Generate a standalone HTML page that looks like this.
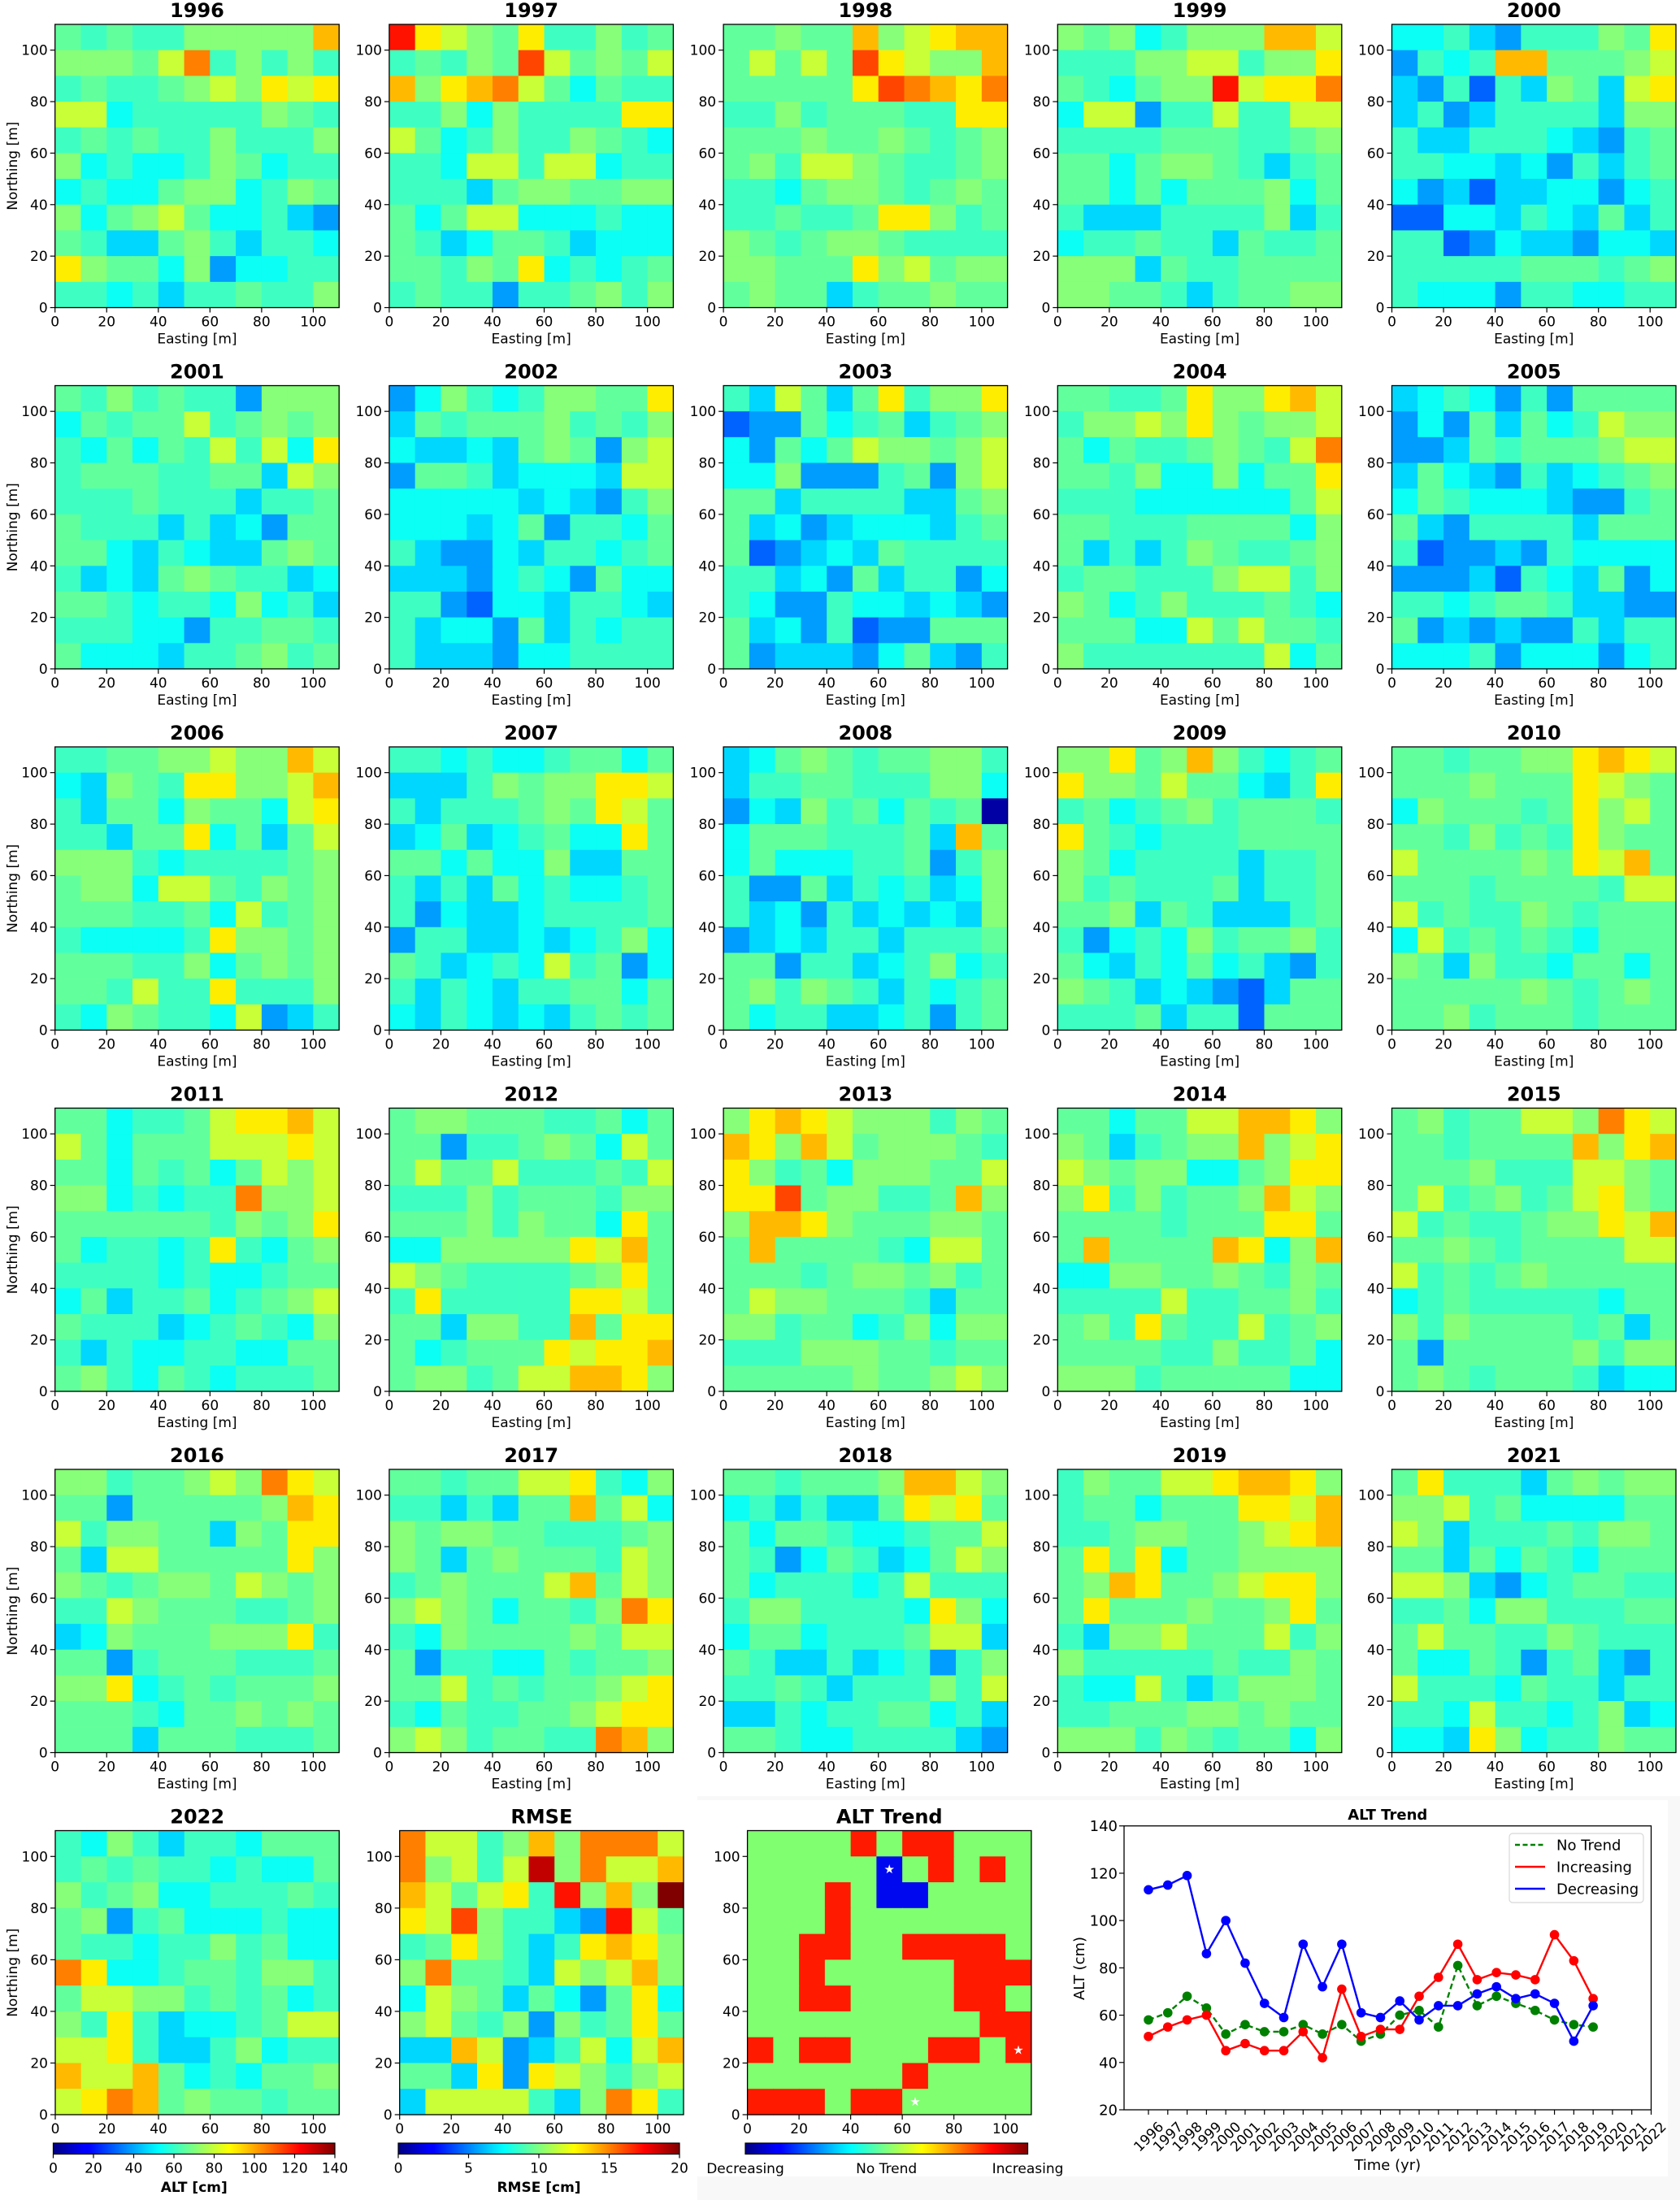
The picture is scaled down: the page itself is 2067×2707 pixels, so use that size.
<!DOCTYPE html>
<html><head><meta charset="utf-8"><style>
html,body{margin:0;padding:0;background:#fff;}
svg{display:block;font-family:"DejaVu Sans","Liberation Sans",sans-serif;}
</style></head><body>
<svg id="fig" xmlns="http://www.w3.org/2000/svg" width="2067" height="2707" viewBox="0 0 2067 2707">
<defs>
<linearGradient id="jetg" x1="0" x2="1" y1="0" y2="0">
<stop offset="0" stop-color="#000080"/><stop offset="0.11" stop-color="#0000ff"/><stop offset="0.125" stop-color="#0000ff"/><stop offset="0.34" stop-color="#00e0ff"/><stop offset="0.375" stop-color="#00ffff"/><stop offset="0.5" stop-color="#80ff80"/><stop offset="0.625" stop-color="#ffff00"/><stop offset="0.66" stop-color="#ffe000"/><stop offset="0.875" stop-color="#ff0000"/><stop offset="1" stop-color="#800000"/>
</linearGradient>
</defs>
</svg>
<script>
// ---- chart data ----
const years = ['1996','1997','1998','1999','2000','2001','2002','2003','2004','2005','2006','2007','2008','2009','2010','2011','2012','2013','2014','2015','2016','2017','2018','2019','2021','2022'];
// colour-level codes per cell (top row first), decoded via codeValues
const codeValues = {'d':5,'0':31,'1':39,'2':47,'3':54,'4':61,'5':66,'6':71,'7':80,'8':90,'9':97,'a':105,'b':113,'c':120,'e':131,'f':140};
const altGrids = [
"54544666669/66657a46464/45445676878/77344444654/45454464446/63433465344/34335663465/63567533421/54225642443/86553613344/44342445446",
"c8765844645/45465b75657/9689a753544/44636444488/75346446543/44377477344/44425665566/53577333433/54235542333/55465834345/45441445646",
"55655967899/57575b87669/555558ba98a/44645554488/55565565456/56477654456/44356654565/44544588645/65456654444/66555867566/56552455655",
"65634666997/44466774668/543566c788a/37714474477/44445554456/55356654245/55353555635/42224444624/34454425445/66625445555/66554245566",
"33421444658/14349955567/21404265278/24124444266/42244432145/44332314245/31202233134/00332432524/44013221332/44444555456/43331443344",
"54645441666/35455745656/43535474738/45554455276/44454442445/54442423155/55324322565/42325654423/55434436342/44433144554/53332445645",
"13643466558/25455564546/32232565167/15542333277/33333232146/33323514435/42113244345/22213431533/44103324432/42331524344/42221334444",
"42752584668/01153452456/31535766567/33611145167/55244442256/52312333245/50123254444/44231524413/43114332321/52314011555/51222135214",
"55445866897/46676865667/5354456547a/55463363558/44433333357/55444555536/52424654456/45544467746/65346444543/55533757554/64444444735",
"23431415555/13152534766/11254555677/25321423456/35433321145/52144442555/40112143333/11120432513/44345542211/51212114244/33341333134",
"44556676697/32654886679/42553655378/44255835257/66643444456/56637754656/55544537456/43333486656/55544635656/55474484446/43654437124",
"44343345535/22246566887/42444565875/23523453385/55353362255/42425343345/41322344445/14422323463/54234374513/42432445535/32432324545",
"23565455664/24455444663/1326453545d/35554445295/35333445146/41152434236/42314232326/12324424445/55144234634/56465424345/53442234145",
"66856964345/86657553248/45345645554/85434445555/65344442445/64544452445/55625422245/41343645564/53243534214/65423210255/44452440555",
"55455668987/55565558765/36555458675/55464548655/75555658795/55545555477/74544654555/37454543555/65264435535/55555654565/55645554555",
"55344578897/75355577787/55354535767/6634344a667/55555546568/53443484356/44443433455/35244534567/54442345436/42433443355/56435434445",
"56655544535/55144565375/57557444547/44464555466/55564655385/33666668795/76544445685/48444448875/55266449588/53455587889/56645779986",
"68987666465/98697566654/86453666557/88b56644596/69986555665/59555543775/55545665645/57665554255/66455346366/44466655455/55555655676",
"55355779986/65245669678/76566335688/68464556976/55554555885/59555598369/33665565465/44447445564/56485447456/55554464453/66645555533",
"56455776a87/55455559689/55564447765/57456457865/74544566879/55654555577/74545655555/34544444355/64655554525/51555556466/56545554233",
"66455676a87/55155555698/74665526588/52775555586/65456657656/44765554456/23655566684/55145554445/66834545556/55543556565/55525554445",
"55455778436/44242559573/65665544456/65256555476/45655579576/676535546a8/43655556577/51443354556/55745455678/43544556788/67645544a96",
"55455569976/34242258785/53554334557/54135423576/53444347444/46644443863/35534445772/54224234146/44542444647/22434455342/55433444421",
"46557789986/45535558879/44566556789/58583556666/56985567886/58555655685/42667555746/64444454465/43374246665/44555665655/66646545536",
"58444256566/66745333355/76244454665/55253543555/77621345544/44536644455/57554465444/53354145214/74443544244/44374434623/33286344655",
"43642443555/45454434335/64563344454/56145333433/54434464533/a8334554664/57766454534/64842334577/77842246344/97795343556/78a95655455"
];
const rmseGrid = "a774696aaa7/a6747e6a779/975784c696f/87b64421c75/45864248986/6a554276796/37652531583/67546164585/22971247379/55281876467/27777426a84";
const trendGrid = "0000+0++000/00000-0+0+0/000+0--0000/000+0000000/00++00++++0/00+00000+++/00++0000++0/000000000++/+0++000++0+/000000+0000/+++0++00000";
const starCells = [[55,95],[105,25],[65,5]];
const gridTicks = [0,20,40,60,80,100];
const altCbarTicks = [0,20,40,60,80,100,120,140];
const rmseCbarTicks = [0,5,10,15,20];
const trendCbarLabels = ['Decreasing','No Trend','Increasing'];
// line chart
const lineYears = [1996,1997,1998,1999,2000,2001,2002,2003,2004,2005,2006,2007,2008,2009,2010,2011,2012,2013,2014,2015,2016,2017,2018,2019];
const decreasingSeries = [113,115,119,86,100,82,65,59,90,72,90,61,59,66,58,64,64,69,72,67,69,65,49,64];
const increasingSeries = [51,55,58,60,45,48,45,45,53,42,71,51,54,54,68,76,90,75,78,77,75,94,83,67];
const noTrendSeries = [58,61,68,63,52,56,53,53,56,52,56,49,52,60,62,55,81,64,68,65,62,58,56,55];
const lineXTicks = [1996,1997,1998,1999,2000,2001,2002,2003,2004,2005,2006,2007,2008,2009,2010,2011,2012,2013,2014,2015,2016,2017,2018,2019,2020,2021,2022];
const lineYTicks = [20,40,60,80,100,120,140];

const NS = 'http://www.w3.org/2000/svg';
const svg = document.getElementById('fig');
function mk(tag, attrs, parent, txt){
  const e = document.createElementNS(NS, tag);
  for (const k in attrs) e.setAttribute(k, attrs[k]);
  if (txt !== undefined) e.textContent = txt;
  (parent || svg).appendChild(e);
  return e;
}
function clip(v){return Math.max(0, Math.min(1, v));}
function jet(x){
  x = clip(x);
  const r = clip(1.5 - Math.abs(4*x - 3)), g = clip(1.5 - Math.abs(4*x - 2)), b = clip(1.5 - Math.abs(4*x - 1));
  return 'rgb(' + Math.round(r*255) + ',' + Math.round(g*255) + ',' + Math.round(b*255) + ')';
}

let bg = mk('rect', {x:858, y:2210, width:1209, height:497, fill:'#f8f8f8'});


let wbg = mk('rect', {x:858, y:2215, width:1194, height:463, fill:'#ffffff'});



function drawAxes(g, px, py, w, h, title, ylab, xlab){
  const frame = mk('rect', {x:px, y:py, width:w, height:h, fill:'none', stroke:'#000', 'stroke-width':1.3}, g);
  
  
  for (const v of gridTicks){
    const xx = px + v/110*w, yy = py + h - v/110*h;
    const tx = mk('line', {x1:xx, x2:xx, y1:py+h, y2:py+h+6, stroke:'#000', 'stroke-width':1.2}, g);
    
    
    const lx = mk('text', {x:xx, y:py+h+23, 'text-anchor':'middle', 'font-size':17}, g, String(v));
    
    
    const ty = mk('line', {x1:px-6, x2:px, y1:yy, y2:yy, stroke:'#000', 'stroke-width':1.2}, g);
    
    
    const ly = mk('text', {x:px-9, y:yy+6, 'text-anchor':'end', 'font-size':17}, g, String(v));
    
    
  }
  const t = mk('text', {x:px+w/2, y:py-9, 'text-anchor':'middle', 'font-size':24, 'font-weight':'bold'}, g, title);
  
  
  if (xlab){
    const xl = mk('text', {x:px+w/2, y:py+h+44, 'text-anchor':'middle', 'font-size':17}, g, 'Easting [m]');
    
    
  }
  if (ylab){
    const cy = py + h/2;
    const yl = mk('text', {x:21, y:cy, 'text-anchor':'middle', 'font-size':17, transform:'rotate(-90 21 '+cy+')'}, g, 'Northing [m]');
    
    
  }
}
function drawGrid(g, px, py, w, h, grid, colorFn){
  const rows = grid.split('/');
  const cw = w/11, ch = h/11;
  rows.forEach((row, i) => {
    for (let j = 0; j < 11; j++){
      const c = mk('rect', {x:px + j*cw, y:py + i*ch, width:cw+0.6, height:ch+0.6, fill:colorFn(row[j])}, g);
      
      
    }
  });
}
const altColor = ch => jet(codeValues[ch]/140);

years.forEach((yr, k) => {
  let px, py, w = 349.5, h = 348.5;
  if (k < 25){
    const r = Math.floor(k/5), c = k%5;
    px = 67.7 + c*411.2; py = 30 + r*444.5;
  } else { px = 68; py = 2252.5; h = 349.5; w = 349.3; }
  const g = mk('g', {});
  
  
  drawGrid(g, px, py, w, h, altGrids[k], altColor);
  drawAxes(g, px, py, w, h, yr, (k%5===0 || k===25), k < 25);
});

(function(){
  const px = 491.7, py = 2252.5, w = 349.3, h = 349.5;
  const g = mk('g', {});
  
  
  drawGrid(g, px, py, w, h, rmseGrid, ch => jet(codeValues[ch]/140));
  drawAxes(g, px, py, w, h, 'RMSE', false, false);
})();

(function(){
  const px = 919.6, py = 2252.5, w = 349.3, h = 349.5;
  const g = mk('g', {});
  
  
  drawGrid(g, px, py, w, h, trendGrid, ch => ch==='+' ? '#ff1a00' : (ch==='-' ? '#0008f0' : '#80ff70'));
  for (const s of starCells){
    const st = mk('text', {x:px + s[0]/110*w, y:py + h - s[1]/110*h + 5, 'text-anchor':'middle', 'font-size':15, fill:'#fff'}, g, '★');
    
    
  }
  drawAxes(g, px, py, w, h, 'ALT Trend', false, false);
})();

function colorbar(name, x0, x1, ticks, vmax, label){
  const g = mk('g', {});
  
  
  const y0 = 2637, hh = 13.5;
  const r = mk('rect', {x:x0, y:y0, width:x1-x0, height:hh, fill:'url(#jetg)', stroke:'#000', 'stroke-width':1.2}, g);
  
  
  if (ticks){
    for (const v of ticks){
      const xx = x0 + v/vmax*(x1-x0);
      const tl = mk('line', {x1:xx, x2:xx, y1:y0+hh, y2:y0+hh+5, stroke:'#000', 'stroke-width':1.2}, g);
      
      
      const tt = mk('text', {x:xx, y:y0+hh+23, 'text-anchor':'middle', 'font-size':17}, g, String(v));
      
      
    }
  }
  if (label){
    const lb = mk('text', {x:(x0+x1)/2, y:2697, 'text-anchor':'middle', 'font-size':17, 'font-weight':'bold'}, g, label);
    
    
  }
  return g;
}
colorbar('alt-colorbar', 65.5, 412, altCbarTicks, 140, 'ALT [cm]');
colorbar('rmse-colorbar', 490, 836, rmseCbarTicks, 20, 'RMSE [cm]');
(function(){
  const g = colorbar('trend-colorbar', 917, 1264.5, null, 1, null);
  const xs = [917, 1090.7, 1264.5];
  trendCbarLabels.forEach((t, i) => {
    const tx = mk('text', {x:xs[i], y:2674, 'text-anchor':'middle', 'font-size':17}, g, t);
    
    
  });
})();

(function(){
  const L = 1383, R = 2031.5, T = 2246.7, B = 2596;
  const xOf = yr => 1413 + (yr - 1996) * (R - 1413) / 26;
  const yOf = v => B - (v - 20) / 120 * (B - T);
  const g = mk('g', {});
  
  
  const t = mk('text', {x:(L+R)/2, y:2239, 'text-anchor':'middle', 'font-size':18, 'font-weight':'bold'}, g, 'ALT Trend');
  
  
  const fr = mk('rect', {x:L, y:T, width:R-L, height:B-T, fill:'none', stroke:'#000', 'stroke-width':1.3}, g);
  
  
  for (const v of lineYTicks){
    const yy = yOf(v);
    const tl = mk('line', {x1:L-6, x2:L, y1:yy, y2:yy, stroke:'#000', 'stroke-width':1.2}, g);
    
    
    const tt = mk('text', {x:L-8, y:yy+6.5, 'text-anchor':'end', 'font-size':18}, g, String(v));
    
    
  }
  for (const yr of lineXTicks){
    const xx = xOf(yr);
    const tl = mk('line', {x1:xx, x2:xx, y1:B, y2:B+6, stroke:'#000', 'stroke-width':1.2}, g);
    
    
    const cy = 2629;
    const tt = mk('text', {x:xx, y:cy+6, 'text-anchor':'middle', 'font-size':17, transform:'rotate(-45 '+xx+' '+cy+')'}, g, String(yr));
    
    
  }
  const xl = mk('text', {x:(L+R)/2, y:2670, 'text-anchor':'middle', 'font-size':18}, g, 'Time (yr)');
  
  
  const yl = mk('text', {x:1334, y:2422, 'text-anchor':'middle', 'font-size':18, transform:'rotate(-90 1334 2422)'}, g, 'ALT (cm)');
  
  

  function series(vals, color, dash, name){
    const sg = mk('g', {}, g);
    
    
    const pts = vals.map((v, i) => xOf(lineYears[i]) + ',' + yOf(v)).join(' ');
    const attrs = {points:pts, fill:'none', stroke:color, 'stroke-width':2.4};
    if (dash) attrs['stroke-dasharray'] = '7,4';
    const pl = mk('polyline', attrs, sg);
    
    
    vals.forEach((v, i) => {
      const c = mk('circle', {cx:xOf(lineYears[i]), cy:yOf(v), r:5.8, fill:color}, sg);
      
      
    });
  }
  series(noTrendSeries, '#008000', true, 'no-trend-series');
  series(increasingSeries, '#ff0000', false, 'increasing-series');
  series(decreasingSeries, '#0000ff', false, 'decreasing-series');

  const lg = mk('g', {}, g);
  
  
  const lb = mk('rect', {x:1857, y:2256, width:165, height:85, rx:4, fill:'#fff', stroke:'#d8d8d8', 'stroke-width':1.2}, lg);
  
  
  const entries = [['No Trend','#008000',true],['Increasing','#ff0000',false],['Decreasing','#0000ff',false]];
  entries.forEach((e, i) => {
    const yy = 2270 + i*27;
    const la = {x1:1864, x2:1901, y1:yy, y2:yy, stroke:e[1], 'stroke-width':2.4};
    if (e[2]) la['stroke-dasharray'] = '6,3.5';
    const ln = mk('line', la, lg);
    
    
    const tx = mk('text', {x:1915, y:yy+6.5, 'font-size':18}, lg, e[0]);
    
    
  });
})();
</script>
</body></html>
